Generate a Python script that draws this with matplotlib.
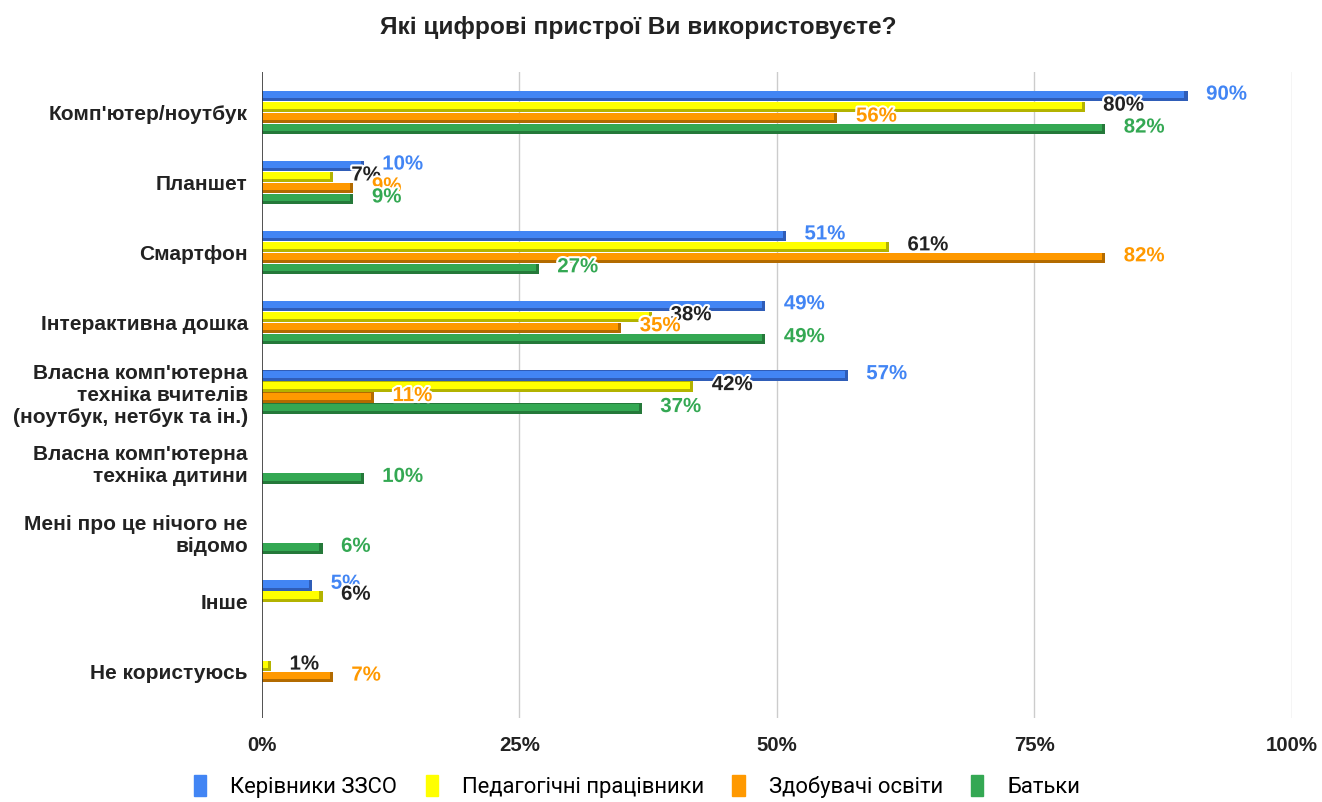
import numpy as np
import matplotlib
matplotlib.use('Agg')
from matplotlib import pyplot as plt
from matplotlib.patches import Patch
import matplotlib.patheffects as pe

plt.rcParams['font.family'] = ['Liberation Sans', 'DejaVu Sans']

categories = ["Комп'ютер/ноутбук", "Планшет", "Смартфон", "Інтерактивна дошка",
              "Власна комп'ютерна\nтехніка вчителів\n(ноутбук, нетбук та ін.)",
              "Власна комп'ютерна\nтехніка дитини",
              "Мені про це нічого не\nвідомо", "Інше", "Не користуюсь"]
series_names = ["Керівники ЗЗСО", "Педагогічні працівники", "Здобувачі освіти", "Батьки"]
kerivnyky = [90, 10, 51, 49, 57, None, None, 5, None]
pedagogy = [80, 7, 61, 38, 42, None, None, 6, 1]
zdobuvachi = [56, 9, 82, 35, 11, None, None, None, 7]
batky = [82, 9, 27, 49, 37, 10, 6, None, None]
x_ticks = [0, 25, 50, 75, 100]

series = [kerivnyky, pedagogy, zdobuvachi, batky]
colors = ['#4285F4', '#FFFF00', '#FF9900', '#34A853']
dark = ['#2F5DB8', '#B3B300', '#B36B00', '#25793A']
label_colors = ['#4285F4', '#222222', '#FF9900', '#34A853']

fig = plt.figure(figsize=(13.22, 8.02), dpi=100)
ax = fig.add_axes([0.198, 0.105, 0.779, 0.805])

step = 0.157
h = 0.15
y = np.arange(len(categories))
for i, vals in enumerate(series):
    off = (i - 1.5) * step
    for j, v in enumerate(vals):
        if v is None:
            continue
        yy = y[j] + off
        # darker body gives the 3D shade, lighter face on top
        ax.barh(yy, v + 0.3, left=-0.4, height=h, color=dark[i], zorder=3)
        ax.barh(yy - h * 0.14, v, left=-0.4, height=h * 0.7, color=colors[i], zorder=4)
        ax.text(v + 1.7, yy - 0.03, f'{v}%', color=label_colors[i], fontsize=14.7,
                fontweight='bold', va='center', ha='left', zorder=6,
                path_effects=[pe.withStroke(linewidth=3, foreground='white')])

ax.set_xlim(0, 100)
ax.set_ylim(8.66, -0.58)
ax.set_xticks(x_ticks)
ax.set_xticklabels([f'{t}%' for t in x_ticks], fontsize=14.7, fontweight='bold', color='#222222')
ax.set_yticks(y)
ax.set_yticklabels(categories, fontsize=15.0, fontweight='bold', color='#222222')
ax.tick_params(length=0, pad=13)
ax.tick_params(axis='y', pad=10)
for s in ax.spines.values():
    s.set_visible(False)
for t in x_ticks[1:]:
    ax.axvline(t, color='#CCCCCC', lw=1, zorder=1)
ax.axvline(0, color='#333333', lw=1.2, zorder=5)

fig.text(0.483, 0.966, 'Які цифрові пристрої Ви використовуєте?', ha='center', va='center',
         fontsize=17.6, fontweight='bold', color='#222222')

handles = [Patch(color=c) for c in colors]
fig.legend(handles, series_names, loc='lower center', bbox_to_anchor=(0.482, -0.02), ncol=4,
           frameon=False, prop={'family': ['Roboto', 'DejaVu Sans'], 'size': 15.8},
           handlelength=0.55, handleheight=1.1, columnspacing=1.3, handletextpad=1.1)

fig.savefig('out.png', dpi=100)
